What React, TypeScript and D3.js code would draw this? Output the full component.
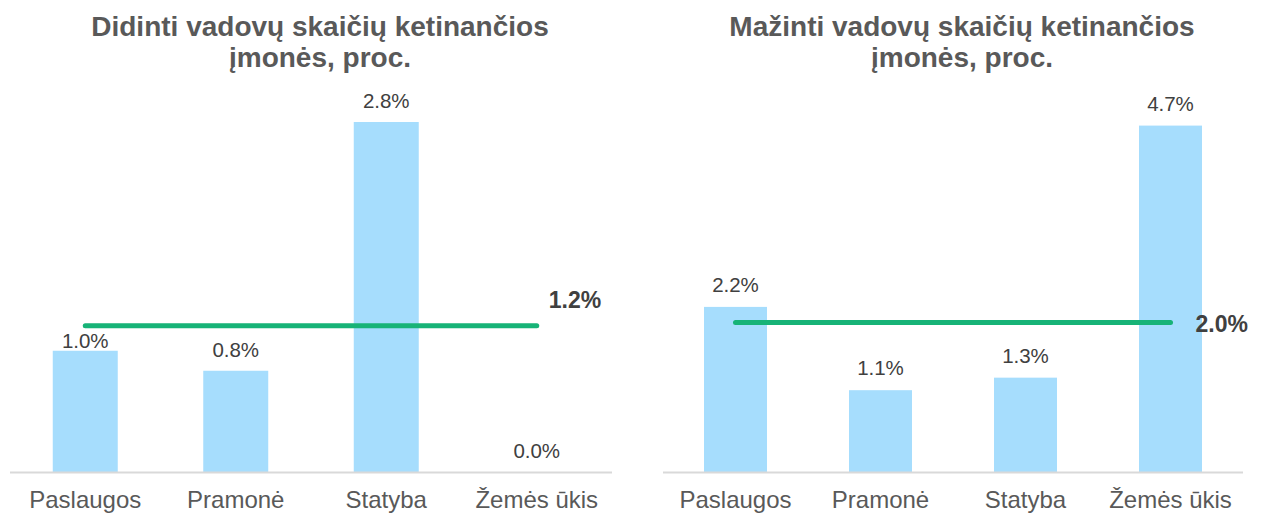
import React from "react";
import * as d3 from "d3";

const categories = ["Paslaugos", "Pramonė", "Statyba", "Žemės ūkis"];

const leftTitle = ["Didinti vadovų skaičių ketinančios", "įmonės, proc."];
const leftValues = [0.97, 0.81, 2.8, 0.0];
const leftLabels = ["1.0%", "0.8%", "2.8%", "0.0%"];
const leftAvg = 1.17;
const leftAvgLabel = "1.2%";

const rightTitle = ["Mažinti vadovų skaičių ketinančios", "įmonės, proc."];
const rightValues = [2.24, 1.11, 1.28, 4.7];
const rightLabels = ["2.2%", "1.1%", "1.3%", "4.7%"];
const rightAvg = 2.03;
const rightAvgLabel = "2.0%";

const FONT = "'Liberation Sans', Arial, Helvetica, sans-serif";
const BAR = "#a6ddfd";
const LINE = "#17b377";

type PanelProps = {
  title: string[];
  values: number[];
  labels: string[];
  avg: number;
  avgLabel: string;
  x0: number;
  x1: number;
  titleX: number;
  yMax: number;
  yTop: number;
  barWidth: number;
  avgLabelDx: number;
  avgLabelDy: number;
  labelGap: number[];
};

function Panel(p: PanelProps) {
  const baseline = 472;
  const x = d3.scaleBand<string>().domain(categories).range([p.x0, p.x1]);
  const y = d3.scaleLinear().domain([0, p.yMax]).range([baseline, p.yTop]);
  const cx = (c: string) => (x(c) as number) + x.bandwidth() / 2;
  const line = d3.line<[number, number]>().x((d) => d[0]).y((d) => d[1]);
  const first = cx(categories[0]);
  const last = cx(categories[categories.length - 1]);
  const ay = y(p.avg);
  return (
    <g>
      <text
        x={p.titleX}
        y={36}
        textAnchor="middle"
        fontFamily={FONT}
        fontWeight="bold"
        fontSize={28}
        fill="#595959"
      >
        <tspan x={p.titleX} y={36}>{p.title[0]}</tspan>
        <tspan x={p.titleX} y={67}>{p.title[1]}</tspan>
      </text>
      {categories.map((c, i) => (
        <rect
          key={c}
          x={cx(c) - p.barWidth / 2}
          y={y(p.values[i])}
          width={p.barWidth}
          height={baseline - y(p.values[i])}
          fill={BAR}
        />
      ))}
      <line x1={p.x0} x2={p.x1} y1={baseline + 0.5} y2={baseline + 0.5} stroke="#d9d9d9" strokeWidth={2} />
      <path
        d={line([[first, ay], [last, ay]]) as string}
        stroke={LINE}
        strokeWidth={5}
        strokeLinecap="round"
        fill="none"
      />
      {categories.map((c, i) => (
        <text
          key={c + "v"}
          x={cx(c)}
          y={y(p.values[i]) - p.labelGap[i]}
          textAnchor="middle"
          fontFamily={FONT}
          fontSize={20.5}
          fill="#404040"
        >
          {p.labels[i]}
        </text>
      ))}
      <text
        x={last + p.avgLabelDx}
        y={ay + p.avgLabelDy}
        fontFamily={FONT}
        fontWeight="bold"
        fontSize={23}
        fill="#404040"
      >
        {p.avgLabel}
      </text>
      {categories.map((c) => (
        <text
          key={c + "c"}
          x={cx(c)}
          y={508}
          textAnchor="middle"
          fontFamily={FONT}
          fontSize={24}
          fill="#595959"
        >
          {c}
        </text>
      ))}
    </g>
  );
}

export default function App() {
  return (
    <svg
      width={1264}
      height={513}
      style={{ position: "absolute", left: 0, top: 0, background: "#fff" }}
    >
      <rect width={1264} height={513} fill="#fff" />
      <Panel
        title={leftTitle}
        values={leftValues}
        labels={leftLabels}
        avg={leftAvg}
        avgLabel={leftAvgLabel}
        x0={10}
        x1={612}
        titleX={320}
        yMax={3.2}
        yTop={72}
        barWidth={65}
        avgLabelDx={12}
        avgLabelDy={-18}
        labelGap={[3, 14, 14, 14]}
      />
      <Panel
        title={rightTitle}
        values={rightValues}
        labels={rightLabels}
        avg={rightAvg}
        avgLabel={rightAvgLabel}
        x0={663}
        x1={1243}
        titleX={962}
        yMax={5.4}
        yTop={74}
        barWidth={63}
        avgLabelDx={25}
        avgLabelDy={10}
        labelGap={[15, 15, 15, 15]}
      />
    </svg>
  );
}
